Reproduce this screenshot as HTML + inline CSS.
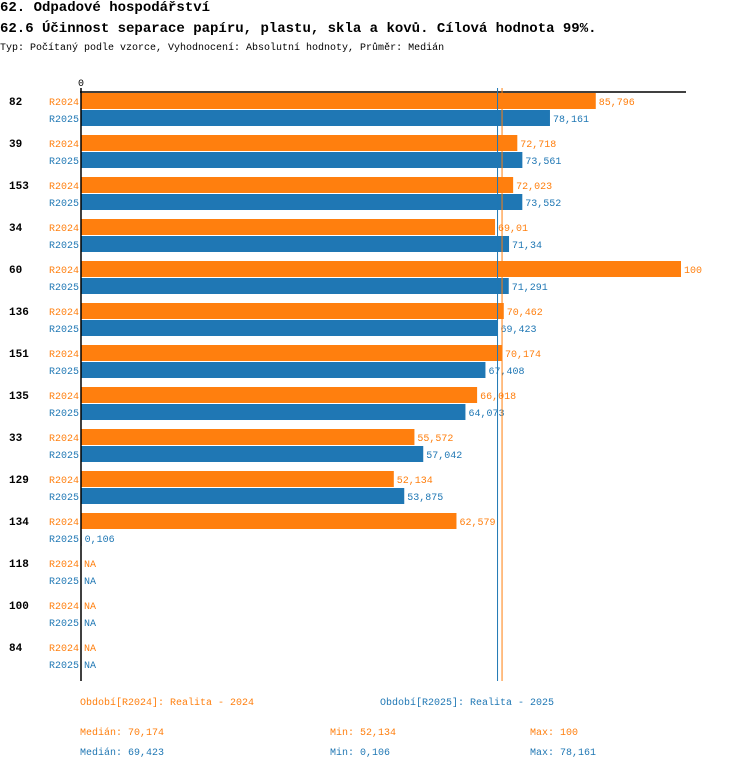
<!DOCTYPE html>
<html><head><meta charset="utf-8">
<style>
body{margin:0;background:#fff;width:750px;height:770px;overflow:hidden;font-family:"Liberation Mono",monospace;}
.t{position:absolute;white-space:nowrap;}
</style></head><body>
<div class="t" style="left:0;top:0;font-size:14px;font-weight:bold;">62. Odpadové hospodářství</div>
<div class="t" style="left:0;top:21px;font-size:14px;font-weight:bold;">62.6 Účinnost separace papíru, plastu, skla a kovů. Cílová hodnota 99%.</div>
<div class="t" style="left:0;top:43px;font-size:10px;">Typ: Počítaný podle vzorce, Vyhodnocení: Absolutní hodnoty, Průměr: Medián</div>
<svg id="chart" width="750" height="770" style="position:absolute;left:0;top:0" font-family="Liberation Mono, monospace" font-size="11"></svg>
<script>
const categories=["82","39","153","34","60","136","151","135","33","129","134","118","100","84"];
const r2024=[85.796,72.718,72.023,69.01,100,70.462,70.174,66.018,55.572,52.134,62.579,null,null,null];
const r2025=[78.161,73.561,73.552,71.34,71.291,69.423,67.408,64.073,57.042,53.875,0.106,null,null,null];
const medians=[70.174,69.423];
const ORANGE="#ff7f0e",BLUE="#1f77b4";
const svg=document.getElementById('chart');
const NS="http://www.w3.org/2000/svg";
const x=v=>81+v*6;
const rowY=i=>93+i*42;
function mk(tag,attrs,txt){const e=document.createElementNS(NS,tag);for(const k in attrs)e.setAttribute(k,attrs[k]);if(txt!=null)e.textContent=txt;svg.appendChild(e);return e;}
const fmt=v=>String(v).replace('.',',');
const series=[[r2024,ORANGE,"R2024",0],[r2025,BLUE,"R2025",17]];
categories.forEach((c,i)=>{
  const y0=rowY(i);
  const cl=mk('text',{x:9,y:y0+12,'font-weight':'bold'},c);
  
  
  series.forEach(([vals,col,lab,off])=>{
    const y=y0+off;
    const sl=mk('text',{x:79,y:y+12,'text-anchor':'end',fill:col,'font-size':'10'},lab);
    
    
    const v=vals[i];
    if(v!=null){
      const r=mk('rect',{x:x(0),y:y,width:x(v)-x(0),height:16,fill:col});
      
      
    }
    const vl=mk('text',{x:(v!=null?x(v):x(0))+3,y:y+12,fill:col,'font-size':'10'},v!=null?fmt(v):"NA");
    
    
  });
});
const ax=mk('line',{x1:80,y1:92,x2:686,y2:92,stroke:'#000','stroke-width':1.5});


const ay=mk('line',{x1:81,y1:88,x2:81,y2:681,stroke:'#000','stroke-width':1.5});


const z=mk('text',{x:81,y:86,'text-anchor':'middle','font-size':'10'},"0");


[[medians[1],BLUE],[medians[0],ORANGE]].forEach(([m,col])=>{
  const l=mk('line',{x1:x(m),y1:88,x2:x(m),y2:681,stroke:col,'stroke-width':1});
  
  
});
const foot=[
 [80,705,ORANGE,"Období[R2024]: Realita - 2024","legend-r2024"],
 [380,705,BLUE,"Období[R2025]: Realita - 2025","legend-r2025"],
 [80,735,ORANGE,"Medián: 70,174","median-r2024"],
 [330,735,ORANGE,"Min: 52,134","min-r2024"],
 [530,735,ORANGE,"Max: 100","max-r2024"],
 [80,755,BLUE,"Medián: 69,423","median-r2025"],
 [330,755,BLUE,"Min: 0,106","min-r2025"],
 [530,755,BLUE,"Max: 78,161","max-r2025"]];
foot.forEach(([fx,fy,col,t,n])=>{
  const e=mk('text',{x:fx,y:fy,fill:col,'font-size':'10'},t);
  
  
});
</script>
</body></html>
